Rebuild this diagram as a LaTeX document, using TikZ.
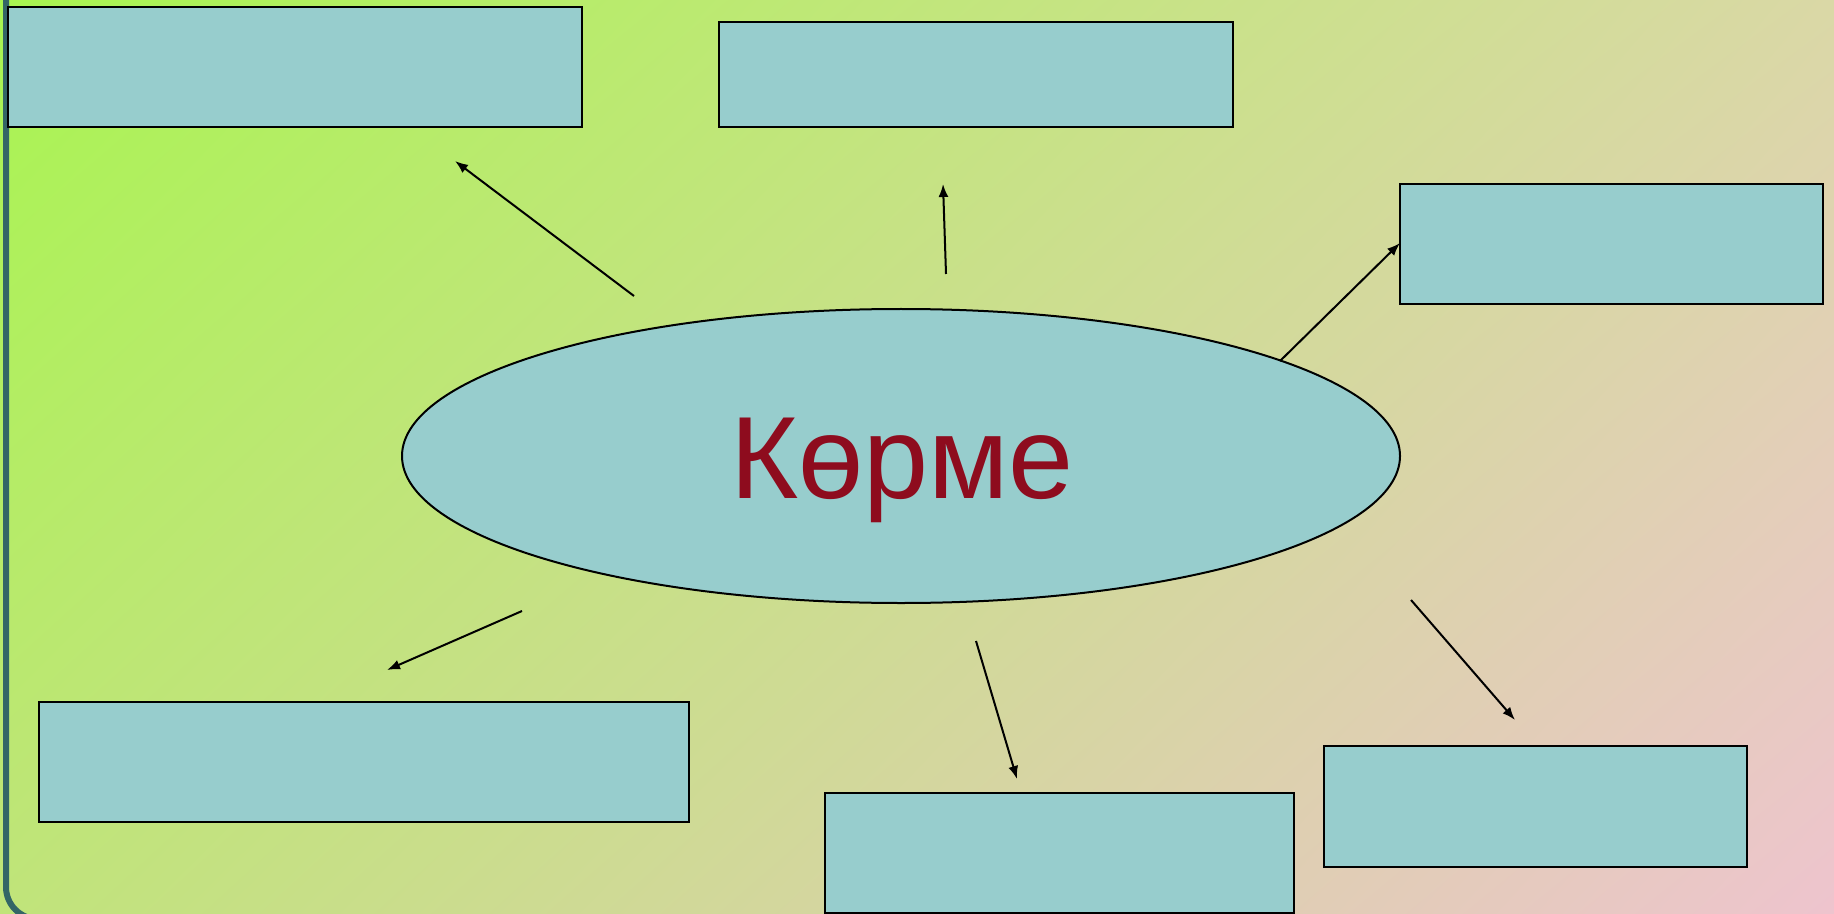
\documentclass[tikz,border=0pt]{standalone}
\usepackage{fontspec}
\setmainfont{Liberation Sans}
\usetikzlibrary{shapes.geometric,arrows.meta,shadings}
\definecolor{boxfill}{HTML}{97CDCD}
\definecolor{wordred}{HTML}{8E0C1E}
\definecolor{frameteal}{HTML}{336666}
\definecolor{bgul}{RGB}{168,245,80}
\definecolor{bgur}{RGB}{218,216,166}
\definecolor{bgll}{RGB}{192,228,122}
\definecolor{bglr}{RGB}{238,196,206}
\tikzset{
  slot/.style={draw=black,line width=1pt,fill=boxfill},
  pointer/.style={line width=1pt,-{Latex[length=6.5pt,width=5pt]}}
}
\begin{document}
\begin{tikzpicture}[x=0.5pt,y=-0.5pt]
    \useasboundingbox (0,0) rectangle (1834,914);
    % background
    \shade[upper left=bgul,upper right=bgur,lower left=bgll,lower right=bglr] (0,0) rectangle (1834,914);
    \begin{scope}
        \clip (0,0) rectangle (1834,914);
        \draw [frameteal,line width=3pt,rounded corners=16pt] (6,-100) -- (6,919) -- (1900,919);
    \end{scope}
    % boxes
    \draw [slot] (8,7) rectangle (582,127);
    \draw [slot] (719,22) rectangle (1233,127);
    \draw [slot] (1400,184) rectangle (1823,304);
    \draw [slot] (39,702) rectangle (689,822);
    \draw [slot] (825,793) rectangle (1294,913);
    \draw [slot] (1324,746) rectangle (1747,867);
    \coordinate (b3) at (1400,243);
    % centre
    \node [ellipse,draw=black,line width=1pt,fill=boxfill,minimum width=499pt,minimum height=147pt,inner sep=0pt]
          (ell) at (901,456) {};
    \node [wordred,font=\fontsize{58.5}{60}\selectfont,anchor=base] (word) at (902,498) {Көрме};
    % arrows
    \coordinate (s1) at (634,296);  \coordinate (e1) at (455,161);
    \coordinate (s2) at (946,274);  \coordinate (e2) at (943,184);
    \coordinate (s3) at (1280,361);
    \coordinate (s4) at (522,611);  \coordinate (e4) at (387,670);
    \coordinate (s5) at (976,641);  \coordinate (e5) at (1017,779);
    \coordinate (s6) at (1411,600); \coordinate (e6) at (1515,720);
    \draw [pointer] (s1) -- (e1);
    \draw [pointer] (s2) -- (e2);
    \draw [pointer] (s3) -- (b3);
    \draw [pointer] (s4) -- (e4);
    \draw [pointer] (s5) -- (e5);
    \draw [pointer] (s6) -- (e6);
\end{tikzpicture}
\end{document}
